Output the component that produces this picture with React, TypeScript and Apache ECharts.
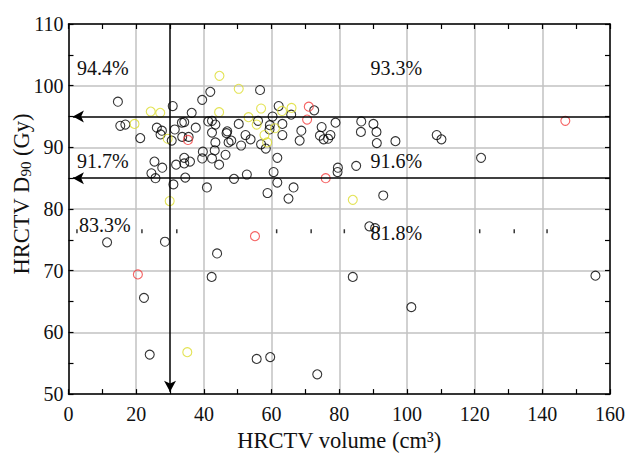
import React, { useEffect, useRef } from "react";
import * as echarts from "echarts";

const xTicks = [0, 20, 40, 60, 80, 100, 120, 140, 160];
const yTicks = [50, 60, 70, 80, 90, 100, 110];

const blackPoints: [number, number][] = [
  [14.6, 97.4], [15.3, 93.5], [16.8, 93.7], [21.2, 91.5], [26.1, 93.2], [27.6, 92.7], [27.2, 92.1],
  [25.4, 87.7], [24.5, 85.8], [25.7, 85.0], [27.7, 86.7], [30.8, 96.7], [31.4, 92.9], [30.5, 91.1],
  [31.8, 87.2], [31.0, 84.0], [33.5, 94.0], [34.2, 94.1], [36.4, 95.6], [37.6, 93.2], [33.6, 91.7],
  [35.5, 91.7], [34.2, 88.3], [34.2, 87.4], [35.9, 87.7], [34.5, 85.1], [39.5, 97.7], [39.7, 89.3],
  [39.5, 88.2], [41.9, 99.0], [41.3, 94.2], [42.4, 94.3], [43.4, 93.7], [42.4, 92.4], [43.4, 90.8],
  [43.2, 89.5], [42.4, 88.2], [44.5, 87.2], [40.9, 83.5], [46.4, 88.8], [46.9, 92.6], [46.7, 92.3],
  [47.3, 90.8], [48.1, 91.1], [50.3, 93.8], [51.0, 90.3], [48.9, 84.9], [52.7, 85.6], [52.3, 92.0],
  [53.8, 91.3], [56.6, 99.3], [56.0, 94.3], [56.9, 90.5], [58.3, 89.8], [58.8, 82.6], [59.5, 93.6],
  [59.4, 92.9], [60.3, 95.0], [62.1, 96.7], [63.2, 93.8], [63.2, 92.0], [65.8, 95.3], [61.7, 88.3],
  [60.6, 86.0], [61.7, 84.3], [65.0, 81.7], [66.5, 83.5], [68.3, 91.1], [68.8, 92.7], [72.6, 96.0],
  [74.8, 93.3], [74.3, 91.9], [75.4, 91.3], [76.7, 91.4], [77.4, 92.0], [78.9, 94.0], [86.5, 94.2],
  [86.4, 92.5], [90.1, 93.8], [91.0, 92.5], [91.1, 90.7], [96.6, 91.0], [108.8, 92.0], [110.2, 91.3],
  [121.9, 88.3], [79.6, 86.7], [79.5, 86.0], [85.0, 87.0], [93.0, 82.2], [88.9, 77.2], [90.6, 76.9],
  [11.4, 74.6], [28.5, 74.7], [43.9, 72.8], [42.3, 69.0], [22.3, 65.6], [24.0, 56.4], [55.6, 55.7],
  [59.6, 56.0], [73.5, 53.2], [84.0, 69.0], [101.3, 64.1], [155.7, 69.2],
];

const yellowPoints: [number, number][] = [
  [19.5, 93.8], [24.3, 95.8], [27.1, 95.6], [29.3, 91.4], [29.9, 81.3], [44.6, 101.6], [44.5, 95.7],
  [50.3, 99.5], [53.2, 94.9], [55.6, 93.7], [56.9, 96.3], [57.9, 92.0], [58.7, 90.8], [61.0, 93.1],
  [63.1, 95.9], [65.9, 96.4], [84.0, 81.5], [35.1, 56.8],
];

const redPoints: [number, number][] = [
  [35.3, 91.2], [71.0, 96.6], [70.5, 94.5], [76.0, 85.0], [146.8, 94.3], [55.1, 75.6], [20.5, 69.4],
];

const hArrowYs = [95, 85];
const vArrowX = 30;

const dashMarkY = 76.4;
const dashMarkXs = [2.5, 21.7, 32, 61.5, 71.7, 81.5, 121.5, 131.7, 141.4];

const annotations: { x: number; y: number; text: string }[] = [
  { x: 2.5, y: 102.8, text: "94.4%" },
  { x: 89.2, y: 102.8, text: "93.3%" },
  { x: 2.5, y: 87.75, text: "91.7%" },
  { x: 89.2, y: 87.8, text: "91.6%" },
  { x: 3.1, y: 77.4, text: "83.3%" },
  { x: 89.2, y: 76.1, text: "81.8%" },
];

const FONT = "Liberation Serif";

export default function App() {
  const ref = useRef<HTMLDivElement>(null);
  useEffect(() => {
    if (!ref.current) return;
    const chart = echarts.init(ref.current, undefined, { renderer: "svg" });
    const axisCommon = {
      axisLine: { show: true, onZero: false, lineStyle: { color: "#000", width: 1.5 } },
      axisTick: { show: true, inside: true, length: 5, lineStyle: { color: "#000", width: 1.2 } },
      minorTick: { show: true, splitNumber: 2, length: 5, lineStyle: { color: "#000", width: 1.2 } },
    };
    const hollow = (color: string) => ({
      color: "rgba(255,255,255,0)",
      borderColor: color,
      borderWidth: 1.1,
    });
    const markLineData: any[] = hArrowYs.map((y) => [
      { coord: [160, y], symbol: "none" },
      { coord: [1.3, y], symbol: "arrow" },
    ]);
    markLineData.push([
      { coord: [vArrowX, 110], symbol: "none" },
      { coord: [vArrowX, 50.4], symbol: "arrow" },
    ]);
    const yTitle = {
      type: "text",
      x: 21,
      y: 194,
      rotation: Math.PI / 2,
      style: {
        text: "{a|HRCTV D}{s|90}{a| (Gy)}",
        align: "center",
        verticalAlign: "middle",
        fill: "#111",
        rich: {
          a: { fontFamily: FONT, fontSize: 22.5, fill: "#111" },
          s: { fontFamily: FONT, fontSize: 15, fill: "#111", padding: [10, 0, 0, 0] },
        },
      },
    };
    chart.setOption({
      animation: false,
      textStyle: { fontFamily: FONT },
      grid: { left: 68.5, right: 14, top: 24, bottom: 58, containLabel: false },
      xAxis: [
        {
          type: "value",
          min: xTicks[0],
          max: xTicks[xTicks.length - 1],
          interval: 20,
          position: "bottom",
          ...axisCommon,
          axisLabel: { color: "#111", fontFamily: FONT, fontSize: 20, margin: 10 },
          splitLine: { show: true, lineStyle: { color: "#c2c2c2", width: 1.5 } },
          name: "HRCTV volume (cm\u00B3)",
          nameLocation: "middle",
          nameGap: 32,
          nameTextStyle: { color: "#111", fontFamily: FONT, fontSize: 22.5 },
        },
        {
          type: "value",
          min: xTicks[0],
          max: xTicks[xTicks.length - 1],
          interval: 20,
          position: "top",
          ...axisCommon,
          axisLabel: { show: false },
          splitLine: { show: false },
        },
      ],
      yAxis: [
        {
          type: "value",
          min: yTicks[0],
          max: yTicks[yTicks.length - 1],
          interval: 10,
          position: "left",
          ...axisCommon,
          axisLabel: { color: "#111", fontFamily: FONT, fontSize: 20, margin: 5 },
          splitLine: { show: true, lineStyle: { color: "#c2c2c2", width: 1.5 } },
        },
        {
          type: "value",
          min: yTicks[0],
          max: yTicks[yTicks.length - 1],
          interval: 10,
          position: "right",
          ...axisCommon,
          axisLabel: { show: false },
          splitLine: { show: false },
        },
      ],
      graphic: [yTitle],
      series: [
        {
          type: "scatter",
          name: "black",
          data: blackPoints,
          symbol: "circle",
          symbolSize: 9,
          itemStyle: hollow("#000"),
          silent: true,
          z: 3,
          markLine: {
            silent: true,
            symbolSize: [9, 11],
            label: { show: false },
            lineStyle: { color: "#000", width: 1.5, type: "solid" },
            data: markLineData,
            z: 4,
          },
        },
        {
          type: "scatter",
          name: "yellow",
          data: yellowPoints,
          symbol: "circle",
          symbolSize: 9,
          itemStyle: hollow("#dcdc2a"),
          silent: true,
          z: 3,
        },
        {
          type: "scatter",
          name: "red",
          data: redPoints,
          symbol: "circle",
          symbolSize: 9,
          itemStyle: hollow("#f23a3a"),
          silent: true,
          z: 3,
        },
        {
          type: "scatter",
          name: "dashmarks",
          data: dashMarkXs.map((x) => [x, dashMarkY]),
          symbol: "rect",
          symbolSize: [1.5, 4],
          itemStyle: { color: "#000" },
          silent: true,
          z: 3,
        },
      ],
    });
    const annoGraphics = annotations.map((a) => {
      const [px, py] = chart.convertToPixel({ gridIndex: 0 }, [a.x, a.y]) as number[];
      return {
        type: "text",
        x: px,
        y: py,
        z: 10,
        style: {
          text: a.text,
          fill: "#111",
          fontFamily: FONT,
          fontSize: 20,
          align: "left",
          verticalAlign: "middle",
        },
      };
    });
    chart.setOption({ graphic: [yTitle, ...annoGraphics] });
    return () => chart.dispose();
  }, []);
  return (
    <div
      ref={ref}
      style={{ position: "fixed", left: 0, top: 0, width: 628, height: 457, background: "#fff" }}
    />
  );
}
